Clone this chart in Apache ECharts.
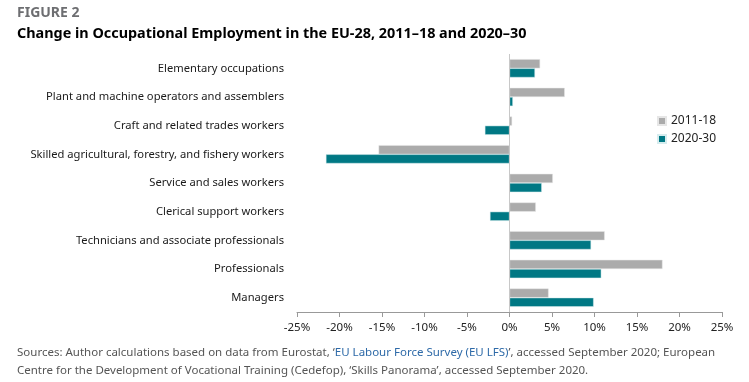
<!DOCTYPE html>
<html><head><meta charset="utf-8">
<script src="https://cdn.jsdelivr.net/npm/echarts@6/dist/echarts.min.js"></script>
<style>html,body{margin:0;padding:0;background:#fff}#c{width:749px;height:382px}</style>
</head><body><div id="c"></div>
<script>
const categories = ["Elementary occupations","Plant and machine operators and assemblers","Craft and related trades workers","Skilled agricultural, forestry, and fishery workers","Service and sales workers","Clerical support workers","Technicians and associate professionals","Professionals","Managers"];
const series2011_18 = [3.6, 6.5, 0.3, -15.4, 5.1, 3.1, 11.2, 18.0, 4.6];
const series2020_30 = [3.0, 0.4, -2.9, -21.6, 3.8, -2.3, 9.6, 10.8, 9.9];
const xTicks = [-25, 25, 5];
const FONT = "Noto Sans";
const chart = echarts.init(document.getElementById('c'));
chart.setOption({
  animation: false,
  textStyle: {fontFamily: FONT},
  grid: {left: 297, right: 27, top: 54, bottom: 70},
  legend: {
    orient: 'vertical', left: 652, top: 110, itemWidth: 8, itemHeight: 8, itemGap: 6,
    icon: 'rect', textStyle: {fontSize: 12, color: '#222', fontFamily: FONT},
    data: ['2011-18', '2020-30']
  },
  xAxis: {
    type: 'value', min: xTicks[0], max: xTicks[1], interval: xTicks[2],
    axisLine: {show: true, lineStyle: {color: '#999'}},
    axisTick: {show: true, length: 5, lineStyle: {color: '#999'}},
    splitLine: {show: false},
    axisLabel: {formatter: v => v + '%', color: '#222', fontSize: 11.5, margin: 10}
  },
  yAxis: {
    type: 'category', data: categories, inverse: true,
    axisLine: {show: false}, axisTick: {show: false},
    axisLabel: {color: '#1a1a1a', fontSize: 11.2, margin: 13}
  },
  series: [
    {name: '2011-18', type: 'bar', data: series2011_18, barGap: '0%', barCategoryGap: '36%',
     itemStyle: {color: '#ababab', borderColor: '#e6e6e6', borderWidth: 0.5},
     markLine: {silent: true, symbol: 'none', label: {show: false},
       lineStyle: {color: '#c8c8c8', type: 'solid', width: 1}, data: [{xAxis: 0}]}},
    {name: '2020-30', type: 'bar', data: series2020_30,
     itemStyle: {color: '#007884', borderColor: '#d6ecee', borderWidth: 0.5}}
  ],
  graphic: [
    {type: 'text', left: 17, top: 6, style: {text: 'FIGURE 2', fill: '#6d6e71', font: 'bold 14px "Noto Sans"'}},
    {type: 'text', left: 17, top: 27, style: {text: 'Change in Occupational Employment in the EU-28, 2011\u201318 and 2020\u201330', fill: '#000', font: 'bold 14.4px "Noto Sans"'}},
    {type: 'text', left: 17, top: 347, style: {
      text: "{a|Sources: Author calculations based on data from Eurostat, \u2018}{b|EU Labour Force Survey (EU LFS)}{a|\u2019, accessed September 2020; European}\n{a|Centre for the Development of Vocational Training (Cedefop), \u2018Skills Panorama\u2019, accessed September 2020.}",
      rich: {a: {fill: '#555', fontSize: 11.5, fontFamily: FONT, lineHeight: 18}, b: {fill: '#2e6aa8', fontSize: 11.5, fontFamily: FONT, lineHeight: 18}}
    }}
  ]
});
</script></body></html>
